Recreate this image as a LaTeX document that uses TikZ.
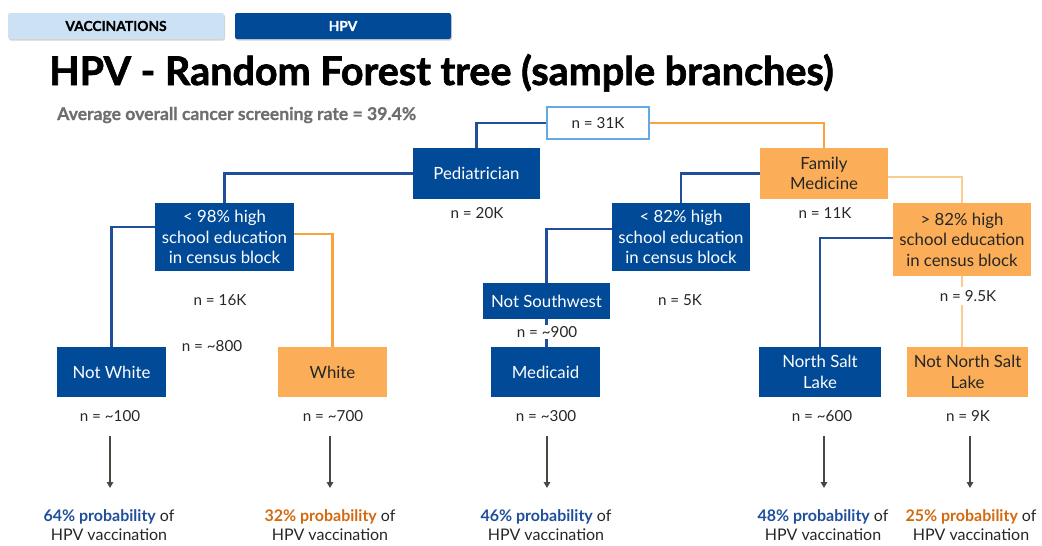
\documentclass[tikz,border=0pt]{standalone}
\usepackage{fontspec}
\setmainfont{Lato}
\newfontfamily\heavyfont{Lato}[BoldFeatures={FakeBold=1.6}]
\newfontfamily\semiheavyfont{Lato}[BoldFeatures={FakeBold=0.8}]
\usetikzlibrary{shadows,arrows.meta}
\definecolor{navy}{HTML}{004A98}
\definecolor{peach}{HTML}{FBAE57}
\definecolor{paleorange}{HTML}{FCCB90}
\definecolor{linkblue}{HTML}{1F4E9B}
\definecolor{linkorange}{HTML}{F9A33C}
\definecolor{tabblue}{HTML}{CCE1F4}
\definecolor{rootedge}{HTML}{64A8E4}
\definecolor{greytext}{HTML}{6E6E6E}
\definecolor{arrowgrey}{HTML}{454A40}
\definecolor{probblue}{HTML}{1F4E9B}
\definecolor{proborange}{HTML}{D2690F}
\tikzset{
  box/.style={minimum width=#1, inner sep=0pt, align=center, font=\fontsize{16.8}{20.5}\selectfont},
  bluebox/.style={box=#1, fill=navy, text=white},
  orangebox/.style={box=#1, fill=peach, text=black!85},
  count/.style={font=\fontsize{15.2}{18}\selectfont, text=black!85, inner sep=1pt},
  bluelink/.style={draw=linkblue, line width=2.4pt},
  orangelink/.style={draw=linkorange, line width=2.4pt},
  palelink/.style={draw=paleorange, line width=2.4pt},
  outcome/.style={draw=arrowgrey, line width=2.3pt, -{Triangle[length=6pt,width=6.5pt]}},
  result/.style={align=center, font=\fontsize{16}{19.5}\selectfont, text=black!85},
  tab/.style={minimum width=216pt, minimum height=26pt, rounded corners=2pt, font=\semiheavyfont\bfseries\fontsize{13.8}{16}\selectfont,
    drop shadow={shadow xshift=1pt, shadow yshift=-1.5pt, opacity=0.35}},
}
\begin{document}
\begin{tikzpicture}[x=1pt, y=-1pt]
\useasboundingbox (0,0) rectangle (1042,546);

% header tabs
\node[tab, fill=tabblue, text=black] (tabvac) at (116,26) {VACCINATIONS};
\node[tab, fill=navy, text=white] (tabhpv) at (343,26) {HPV};

% title and subtitle
\node[anchor=base west, inner sep=0pt, font=\heavyfont\bfseries\fontsize{39.5}{44}\selectfont] (title) at (49,85) {HPV - Random Forest tree (sample branches)};
\node[anchor=base west, inner sep=0pt, text=greytext, font=\semiheavyfont\bfseries\fontsize{17.6}{20}\selectfont] (subtitle) at (57,120) {Average overall cancer screening rate = 39.4\%};

% tree nodes
\node[draw=rootedge, line width=2pt, fill=white, minimum width=102pt, minimum height=32pt, font=\fontsize{15.2}{18}\selectfont, text=black!85] (root) at (598,123) {n = 31K};

\node[bluebox=127pt, minimum height=51pt] (ped) at (476.5,173.5) {Pediatrician};
\node[orangebox=128pt, minimum height=51pt] (fm) at (824,173.5) {Family\\Medicine};

\node[bluebox=139pt, minimum height=68pt] (lt98) at (224.5,237) {< 98\% high\\school education\\in census block};
\node[bluebox=138pt, minimum height=68pt] (lt82) at (681,237) {< 82\% high\\school education\\in census block};
\node[orangebox=138pt, minimum height=73pt] (gt82) at (962,239.5) {> 82\% high\\school education\\in census block};

\node[bluebox=127pt, minimum height=36pt] (ns) at (546.5,301) {Not Southwest};

\node[bluebox=109pt, minimum height=50pt] (nw) at (111.5,372) {Not White};
\node[orangebox=109pt, minimum height=50pt] (wh) at (332.5,372) {White};
\node[bluebox=109pt, minimum height=50pt] (med) at (545.5,372) {Medicaid};
\node[bluebox=122pt, minimum height=50pt] (nsl) at (820,372) {North Salt\\Lake};
\node[orangebox=121pt, minimum height=50pt] (nnsl) at (967.5,372) {Not North Salt\\Lake};

% connectors
\draw[bluelink] (root.west) -| (ped.north);
\draw[orangelink] (root.east) -| (fm.north);
\draw[bluelink] (ped.west) -| (lt98.north);
\draw[bluelink] (fm.west) -| (lt82.north);
\draw[palelink] ([yshift=-3.5pt]fm.east) -| (gt82.north);
\draw[bluelink] ([yshift=10pt]lt98.west) -| (nw.north);
\draw[orangelink] ([yshift=3pt]lt98.east) -| (wh.north);
\draw[bluelink] ([yshift=8pt]lt82.west) -| (ns.north);
\draw[bluelink] (ns.south) -- (ns.south |- med.north);
\draw[bluelink] ([yshift=1.5pt]gt82.west) -| (nsl.north);
\draw[palelink] (gt82.south) -- (gt82.south |- nnsl.north);

% sample counts
\node[count] (c20) at (477,213) {n = 20K};
\node[count] (c11) at (825,213) {n = 11K};
\node[count] (c16) at (220,300) {n = 16K};
\node[count] (c5) at (680,300) {n = 5K};
\node[count, fill=white, inner ysep=3pt] (c95) at (968,296) {n = 9.5K};
\node[count, fill=white] (c900) at (547,332) {n = \textasciitilde900};
\node[count] (c800) at (212,346) {n = \textasciitilde800};
\node[count] (c100) at (110,416) {n = \textasciitilde100};
\node[count] (c700) at (333,416) {n = \textasciitilde700};
\node[count] (c300) at (546,416) {n = \textasciitilde300};
\node[count] (c600) at (822,416) {n = \textasciitilde600};
\node[count] (c9) at (968,416) {n = 9K};

% outcomes
\node[result] (r1) at (109,525) {\textbf{\color{probblue}64\% probability} of\\HPV vaccination};
\node[result] (r2) at (330,525) {\textbf{\color{proborange}32\% probability} of\\HPV vaccination};
\node[result] (r3) at (546,525) {\textbf{\color{probblue}46\% probability} of\\HPV vaccination};
\node[result] (r4) at (823,525) {\textbf{\color{probblue}48\% probability} of\\HPV vaccination};
\node[result] (r5) at (971,525) {\textbf{\color{proborange}25\% probability} of\\HPV vaccination};

% arrows leading from each leaf to its outcome
\foreach \i/\x in {1/110, 2/330, 3/547, 4/824, 5/970} {
  \coordinate (s\i) at (\x,436);
  \coordinate (e\i) at (\x,488);
}
\foreach \i in {1,...,5} { \draw[outcome] (s\i) -- (e\i); }
\end{tikzpicture}
\end{document}
